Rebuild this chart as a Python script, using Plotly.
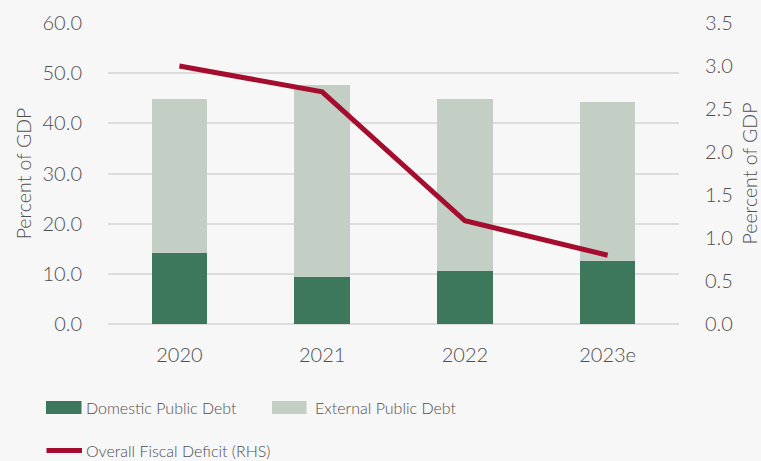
import plotly.graph_objects as go

years = ["2020", "2021", "2022", "2023e"]
domestic_debt = [14.2, 9.4, 10.6, 12.6]
external_debt = [30.6, 38.2, 34.2, 31.6]
fiscal_deficit = [3.0, 2.7, 1.2, 0.8]

C_DOM = "#3e785c"
C_EXT = "#c3cec4"
C_LINE = "#a50d2e"
TXT = "#4f4f4f"
GRID = "#dddddd"
FONT = "Lato"

W, H = 761, 461
L, R, T, B = 108, 82, 23, 137
PW, PH = W - L - R, H - T - B

fig = go.Figure()
fig.add_bar(x=years, y=domestic_debt, name="Domestic Public Debt",
            marker=dict(color=C_DOM, line=dict(width=0)), showlegend=False)
fig.add_bar(x=years, y=external_debt, name="External Public Debt",
            marker=dict(color=C_EXT, line=dict(width=0)), showlegend=False)
fig.add_scatter(x=years, y=fiscal_deficit, name="Overall Fiscal Deficit (RHS)",
                mode="lines", yaxis="y2",
                line=dict(color=C_LINE, width=5), showlegend=False)


def px_x(v):
    return (v - L) / PW


def px_y(v):
    return (H - B - v) / PH


# hand-built legend with wide swatches
shapes = [
    dict(type="rect", xref="paper", yref="paper", x0=px_x(46), x1=px_x(81.5),
         y0=px_y(414), y1=px_y(401), fillcolor=C_DOM, line=dict(width=0)),
    dict(type="rect", xref="paper", yref="paper", x0=px_x(272), x1=px_x(306.5),
         y0=px_y(414), y1=px_y(401), fillcolor=C_EXT, line=dict(width=0)),
    dict(type="line", xref="paper", yref="paper", x0=px_x(46.5), x1=px_x(82),
         y0=px_y(450.5), y1=px_y(450.5), line=dict(color=C_LINE, width=5)),
]
legend_labels = [
    ("Domestic Public Debt", 84, 407),
    ("External Public Debt", 313, 407),
    ("Overall Fiscal Deficit (RHS)", 84, 450),
]
annotations = [
    dict(text=t, xref="paper", yref="paper", x=px_x(x), y=px_y(y),
         xanchor="left", yanchor="middle", showarrow=False,
         font=dict(family=FONT, size=16, color=TXT, weight=300))
    for t, x, y in legend_labels
]

tick_font = dict(family=FONT, size=20, color=TXT, weight=300)
title_font = dict(family=FONT, size=19.5, color=TXT, weight=300)

fig.update_layout(
    width=W, height=H,
    margin=dict(l=L, r=R, t=T, b=B, autoexpand=False),
    paper_bgcolor="#f7f7f7", plot_bgcolor="#f7f7f7",
    barmode="stack", bargap=0.61,
    font=dict(family=FONT, size=18, color=TXT),
    shapes=shapes, annotations=annotations,
    xaxis=dict(showgrid=False, showline=False, zeroline=False,
               automargin=False,
               ticks="outside", ticklen=13, tickcolor="rgba(0,0,0,0)",
               tickfont=tick_font),
    yaxis=dict(range=[0, 60], dtick=10, tickformat=".1f",
               automargin=False,
               showgrid=True, gridcolor=GRID, gridwidth=1.5,
               zeroline=True, zerolinecolor=GRID, zerolinewidth=1.5,
               showline=False, ticks="outside", ticklen=21,
               tickcolor="rgba(0,0,0,0)", tickfont=tick_font,
               title=dict(text="Percent of GDP", standoff=5, font=title_font)),
    yaxis2=dict(range=[0, 3.5], dtick=0.5, tickformat=".1f",
                automargin=False,
                overlaying="y", side="right", showgrid=False,
                zeroline=False, showline=False, ticks="outside", ticklen=21,
                tickcolor="rgba(0,0,0,0)", tickfont=tick_font,
                title=dict(text="Peercent of GDP", standoff=11, font=title_font)),
)

fig.write_html("out.html")
